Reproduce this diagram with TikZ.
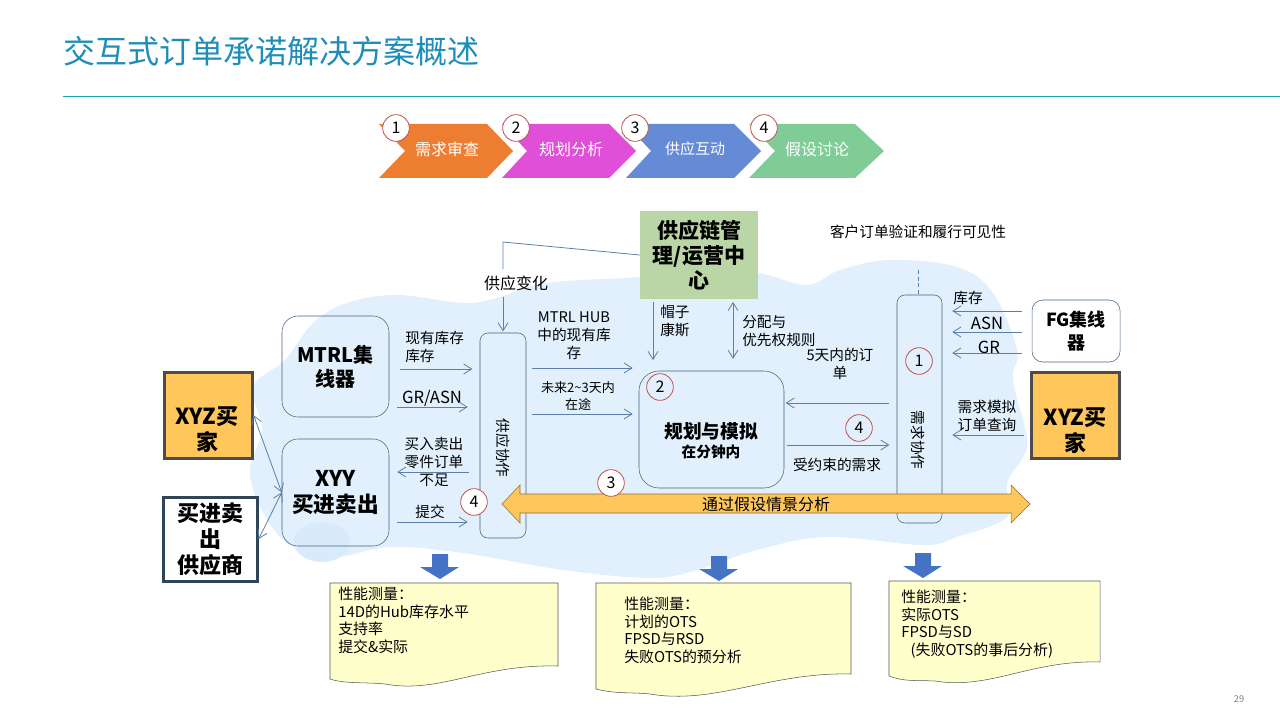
\documentclass[tikz,border=0pt]{standalone}
\usepackage{fontspec}
\setmainfont{Noto Sans CJK SC}
\usetikzlibrary{arrows.meta}

\definecolor{titleteal}{HTML}{1E8DB8}
\definecolor{ruleteal}{HTML}{17A2B8}
\definecolor{cloudblue}{HTML}{E1F0FC}
\definecolor{lobeblue}{HTML}{D9EBFA}
\definecolor{slateline}{HTML}{46627F}
\definecolor{flowblue}{HTML}{5B7FA6}
\definecolor{buyeramber}{HTML}{FFC65C}
\definecolor{hubgreen}{HTML}{BBD6A6}
\definecolor{noteyellow}{HTML}{FFFFCC}
\definecolor{badgered}{HTML}{C0504D}
\definecolor{downblue}{HTML}{4472C4}
\definecolor{steporange}{HTML}{ED7D31}
\definecolor{stepmagenta}{HTML}{E04FD8}
\definecolor{stepblue}{HTML}{668BD6}
\definecolor{stepgreen}{HTML}{80CC97}

\begin{document}
\begin{tikzpicture}[%
		x=0.75pt,
		y=-0.75pt,
		hubbox/.style={
			rectangle,
			rounded corners=12pt,
			draw=slateline,
			inner sep=0pt,
			align=center,
			font=\fontsize{15}{18}\selectfont\bfseries
		},
		barbox/.style={
			rectangle,
			rounded corners=6pt,
			draw=slateline,
			inner sep=0pt
		},
		buyer/.style={
			rectangle,
			draw=black!70,
			line width=2.25pt,
			fill=buyeramber,
			inner sep=0pt,
			align=center,
			minimum width=66pt,
			minimum height=64.5pt,
			font=\fontsize{16.5}{19.5}\selectfont\bfseries
		},
		buyername/.style={
			inner sep=0pt,
			align=center,
			font=\fontsize{16.5}{19.5}\selectfont\bfseries
		},
		badge/.style={
			circle,
			draw=badgered,
			line width=0.6pt,
			minimum size=20pt,
			inner sep=0pt,
			font=\fontsize{12}{14}\selectfont
		},
		steplabel/.style={
			white,
			font=\fontsize{12}{14}\selectfont
		},
		flowlabel/.style={
			align=center,
			inner sep=0pt,
			font=\fontsize{11}{13.5}\selectfont
		},
		latinlabel/.style={
			inner sep=0pt,
			font=\fontsize{12.5}{14}\selectfont
		},
		notelabel/.style={
			anchor=north west,
			align=left,
			inner sep=0pt,
			font=\fontsize{11.2}{13.1}\selectfont
		},
		flow/.style={
			draw=flowblue,
			line width=0.6pt,
			shorten <=4.5pt,
			shorten >=4.5pt,
			-{Straight Barb[length=6pt,width=7.5pt]}
		},
		twoway/.style={
			draw=flowblue,
			line width=0.6pt,
			{Straight Barb[length=6pt,width=7.5pt]}-{Straight Barb[length=6pt,width=7.5pt]}
		},
		note/.style={
			draw=black!65,
			fill=noteyellow
		},
		downarrow/.style={
			fill=downblue
		}]

		\useasboundingbox (0,0) rectangle (1280,720);

		% CLOUD

		\fill[cloudblue] plot [smooth cycle, tension=0.6] coordinates {(253,387) (285,360) (313,323) (347,303) (397,295) (463,303) (497,298) (547,283) (640,277) (700,270) (758,273) (807,285) (840,270) (890,260) (957,267) (993,293) (1017,350) (1013,380) (1027,437) (1023,457) (1007,483) (1007,517) (957,537) (923,545) (827,537) (757,550) (697,570) (650,578) (563,570) (463,553) (390,547) (330,557) (280,537) (250,477) (262,430)};
		\fill[lobeblue] (322,542) ellipse [x radius=28, y radius=20];

		% TITLE

		\node (title) [anchor=west, inner sep=0pt, titleteal, font=\fontsize{24}{28}\selectfont] at (63,51) {交互式订单承诺解决方案概述};
		\coordinate (ruleL) at (63,97);
		\coordinate (ruleR) at (1280,97);
		\draw[ruleteal, line width=0.75pt] (ruleL) -- (ruleR);
		\node (pageno) [black!50, inner sep=0pt, font=\fontsize{7}{8}\selectfont] at (1239,699) {29};

		% PROCESS STEPS

		\fill[steporange] (379,124) -- (487,124) -- (513,151) -- (487,178) -- (379,178) -- (405,151) -- cycle;
		\fill[stepmagenta] (502,124) -- (609,124) -- (636,151) -- (609,178) -- (502,178) -- (527,151) -- cycle;
		\fill[stepblue] (626,124) -- (734,124) -- (761,151) -- (734,178) -- (626,178) -- (651,151) -- cycle;
		\fill[stepgreen] (749,124) -- (855,124) -- (884,151) -- (855,178) -- (749,178) -- (775,151) -- cycle;

		\node (step1) [steplabel] at (447,149) {需求审查};
		\node (step2) [steplabel] at (571,149) {规划分析};
		\node (step3) [steplabel, font=\fontsize{11.25}{14}\selectfont] at (695,149) {供应互动};
		\node (step4) [steplabel] at (817,149) {假设讨论};

		\node (b1) [badge, fill=white] at (396,128) {1};
		\node (b2) [badge, fill=white] at (516,128) {2};
		\node (b3) [badge, fill=white] at (635,128) {3};
		\node (b4) [badge, fill=white] at (764,128) {4};

		% BOXES

		\node (mtrl) [hubbox, minimum width=80.25pt, minimum height=75.75pt] at (335.5,366.5) {MTRL集\\线器};
		\node (xyy) [hubbox, minimum width=80.25pt, minimum height=80.25pt, font=\fontsize{16.25}{20}\selectfont\bfseries] at (335.5,492.5) {XYY\\买进卖出};
		\node (supply) [barbox, minimum width=34.5pt, minimum height=153.75pt] at (503,435.5) {};
		\node (demand) [barbox, minimum width=33.75pt, minimum height=171pt] at (919.5,409) {};
		\node (plan) [hubbox, minimum width=108.75pt, minimum height=87.75pt, rounded corners=15pt] at (711.5,429.5) {};
		\node (fg) [hubbox, minimum width=66pt, minimum height=46.5pt, fill=white, rounded corners=8pt, font=\fontsize{13.5}{17}\selectfont\bfseries] at (1076,331) {FG集线\\器};
		\node (buyerL) [buyer] at (208,415) {};
		\node (buyerR) [buyer] at (1075,415) {};
		\node (buyerLname) [buyername] at (207,430) {XYZ买\\家};
		\node (buyerRname) [buyername] at (1075,431) {XYZ买\\家};
		\node (vendor) [buyer, minimum width=70pt, minimum height=63pt, fill=white, draw=slateline!70!black] at (210.5,539) {买进卖\\出\\供应商};
		\node (scm) [minimum width=88.5pt, minimum height=66pt, fill=hubgreen, inner sep=0pt, align=center, font=\fontsize{15.75}{19}\selectfont\bfseries] at (699,255) {供应链管\\理/运营中\\心};

		\node (planname) [inner sep=0pt, font=\fontsize{14}{16}\selectfont\bfseries] at (711,431) {规划与模拟};
		\node (plantime) [inner sep=0pt, font=\fontsize{11}{13}\selectfont\bfseries] at (711,452) {在分钟内};
		\node (supplyname) [flowlabel, rotate=-90] at (503,448) {供应协作};
		\node (demandname) [flowlabel, rotate=-90] at (918,440) {需求协作};

		% WIDE ARROW

		\draw[draw=black!20!buyeramber!70!black, fill=buyeramber] (502,504) -- (520,485) -- (520,494) -- (1011,494) -- (1011,485) -- (1030,504) -- (1011,523) -- (1011,513) -- (520,513) -- (520,523) -- cycle;
		\node (whatif) [flowlabel, font=\fontsize{12}{14}\selectfont] at (766,504) {通过假设情景分析};

		% BADGES ON THE DIAGRAM

		\node (d1) [badge] at (919,361) {1};
		\node (d2) [badge] at (660,387) {2};
		\node (d3) [badge, fill=white] at (611,483) {3};
		\node (d4L) [badge, fill=white] at (474,502) {4};
		\node (d4R) [badge] at (859,428) {4};

		% LABELS

		\node (stocktext) [flowlabel, align=left, anchor=west] at (405,347) {现有库存\\库存};
		\node (grasn) [latinlabel] at (432,398) {GR/ASN};
		\node (shortage) [flowlabel] at (434,462) {买入卖出\\零件订单\\不足};
		\node (commit) [flowlabel] at (430,512) {提交};
		\node (change) [flowlabel, minimum height=20pt, font=\fontsize{12}{14}\selectfont] at (516,283) {供应变化};
		\node (hubstock) [flowlabel] at (574,336) {MTRL HUB\\中的现有库\\存};
		\node (transit) [flowlabel, font=\fontsize{9.75}{13}\selectfont] at (578,396) {未来2\textasciitilde3天内\\在途};
		\node (hats) [flowlabel, align=left, anchor=west] at (660,321) {帽子\\康斯};
		\node (rules) [flowlabel, align=left, anchor=west] at (742,331) {分配与\\优先权规则};
		\node (fivedays) [flowlabel] at (840,364) {5天内的订\\单};
		\node (limited) [flowlabel] at (837,465) {受约束的需求};
		\node (visible) [flowlabel] at (918,232) {客户订单验证和履行可见性};
		\node (fgstock) [flowlabel] at (968,298) {库存};
		\node (asn) [latinlabel] at (987,323) {ASN};
		\node (gr) [latinlabel] at (989,347) {GR};
		\node (query) [flowlabel] at (987,416) {需求模拟\\订单查询};

		% ROWS OF THE ARROWS

		\coordinate (rowstock) at (0,369);
		\coordinate (rowgr) at (0,407);
		\coordinate (rowshort) at (0,472);
		\coordinate (rowcommit) at (0,522);
		\coordinate (rowhub) at (0,368);
		\coordinate (rowtransit) at (0,414);
		\coordinate (rowfive) at (0,403);
		\coordinate (rowlimit) at (0,445);
		\coordinate (rowfgstock) at (0,311);
		\coordinate (rowasn) at (0,332);
		\coordinate (rowfggr) at (0,353);
		\coordinate (rowquery) at (0,435);
		\coordinate (colhats) at (653,0);
		\coordinate (colrules) at (733,0);
		\coordinate (turn) at (503,242);
		\coordinate (dashtop) at (918,270);
		\coordinate (dashend) at (918,295);

		% ARROWS

		\draw[twoway] (buyerL.east) -- (xyy.west);
		\draw[twoway] (vendor.east) -- (xyy.west);

		\draw[flow, shorten <=8pt, shorten >=5.5pt] (mtrl.east |- rowstock) -- (supply.west |- rowstock);
		\draw[flow, shorten <=6pt, shorten >=9pt] (mtrl.east |- rowgr) -- (supply.west |- rowgr);
		\draw[flow, shorten <=8pt, shorten >=6pt] (supply.west |- rowshort) -- (xyy.east |- rowshort);
		\draw[flow, shorten <=6pt, shorten >=9pt] (xyy.east |- rowcommit) -- (supply.west |- rowcommit);

		\draw[draw=flowblue, line width=0.6pt] (scm.west) -- (turn) -- (change.north -| turn);
		\draw[flow, shorten <=0pt, shorten >=1pt] (change.south -| turn) -- (supply.north);

		\draw[flow] (supply.east |- rowhub) -- (plan.west |- rowhub);
		\draw[flow] (supply.east |- rowtransit) -- (plan.west |- rowtransit);
		\draw[flow, shorten <=2pt, shorten >=8pt] (scm.south -| colhats) -- (plan.north -| colhats);
		\draw[twoway, shorten <=2pt, shorten >=9pt] (scm.south -| colrules) -- (plan.north -| colrules);

		\draw[flow, shorten <=6pt, shorten >=1pt] (demand.west |- rowfive) -- (plan.east |- rowfive);
		\draw[flow, shorten <=2pt, shorten >=5.5pt] (plan.east |- rowlimit) -- (demand.west |- rowlimit);

		\draw[flow, shorten <=7.5pt, shorten >=7.5pt] (fg.west |- rowfgstock) -- (demand.east |- rowfgstock);
		\draw[flow, shorten <=7.5pt, shorten >=7.5pt] (fg.west |- rowasn) -- (demand.east |- rowasn);
		\draw[flow, shorten <=7.5pt, shorten >=7.5pt] (fg.west |- rowfggr) -- (demand.east |- rowfggr);
		\draw[flow, shorten <=4.5pt, shorten >=7.5pt] (buyerR.west |- rowquery) -- (demand.east |- rowquery);

		\draw[draw=flowblue, densely dashed] (dashtop) -- (dashend);

		% MEASURES

		\fill[downarrow] (432,554) -- (448,554) -- (448,567) -- (459,567) -- (440,579) -- (420,567) -- (432,567) -- cycle;
		\fill[downarrow] (711,556) -- (727,556) -- (727,569) -- (738,569) -- (719,581) -- (699,569) -- (711,569) -- cycle;
		\fill[downarrow] (915,553) -- (931,553) -- (931,566) -- (942,566) -- (923,578) -- (903,566) -- (915,566) -- cycle;

		\draw[note] (330,583) -- (558,583) -- (558,666) .. controls (480,664) and (440,694) .. (385,684) .. controls (365,682) and (345,684) .. (330,679) -- cycle;
		\draw[note] (596,583) -- (851,583) -- (851,674) .. controls (770,672) and (715,705) .. (650,694) .. controls (630,692) and (615,694) .. (596,689) -- cycle;
		\draw[note] (889,581) -- (1100,581) -- (1100,662) .. controls (1030,660) and (990,690) .. (935,681) .. controls (915,680) and (905,682) .. (889,676) -- cycle;

		\node (measure1) [notelabel] at (338,587) {性能测量：\\14D的Hub库存水平\\支持率\\提交\&实际};
		\node (measure2) [notelabel] at (624,597) {性能测量：\\计划的OTS\\FPSD与RSD\\失败OTS的预分析};
		\node (measure3) [notelabel] at (901,590) {性能测量：\\实际OTS\\FPSD与SD\\\hspace{7pt}(失败OTS的事后分析)};
\end{tikzpicture}
\end{document}
